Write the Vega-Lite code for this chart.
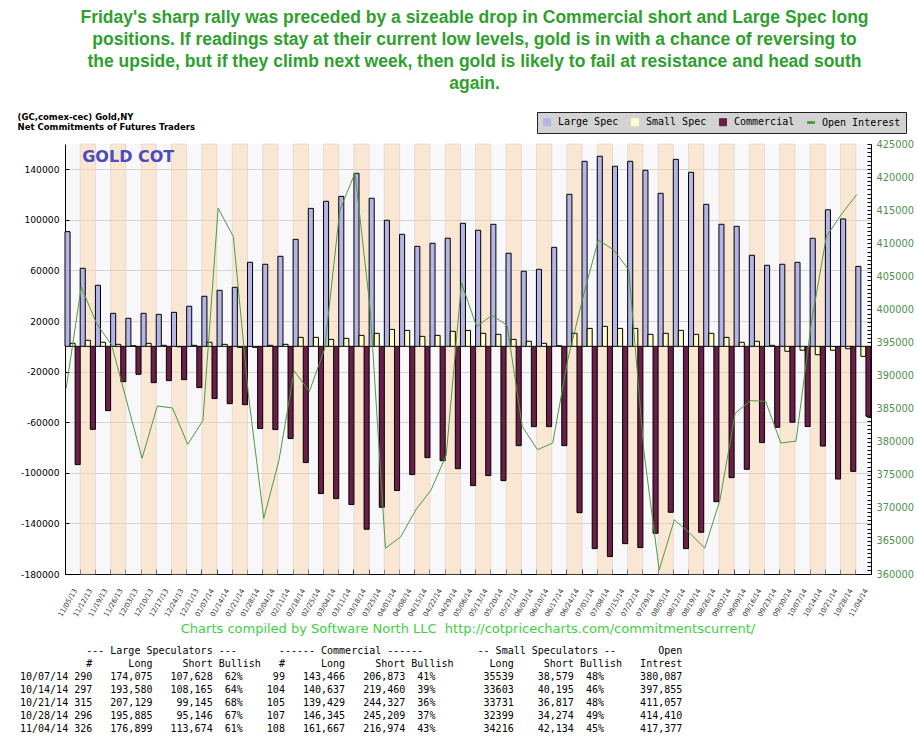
{
  "$schema": "https://vega.github.io/schema/vega-lite/v6.json",
  "background": "white",
  "padding": {"left": 17, "top": 9, "right": 0, "bottom": 0},
  "title": {
    "text": ["Friday's sharp rally was preceded by a sizeable drop in Commercial short and Large Spec long", "positions. If readings stay at their current low levels, gold is in with a chance of reversing to", "the upside, but if they climb next week, then gold is likely to fail at resistance and head south", "again."],
    "font": "Liberation Sans", "fontSize": 17.5, "fontWeight": "bold", "color": "#2ea02e", "lineHeight": 22, "anchor": "middle", "frame": "bounds", "offset": 19, "dx": 9
  },
  "datasets": {
    "cot": [
      {"date":"11/05/13","Large Spec":90700,"Small Spec":2400,"Commercial":-93500,"Open Interest":388000},
      {"date":"11/12/13","Large Spec":61700,"Small Spec":4800,"Commercial":-65600,"Open Interest":403400},
      {"date":"11/19/13","Large Spec":48300,"Small Spec":3200,"Commercial":-50800,"Open Interest":397900},
      {"date":"11/26/13","Large Spec":26100,"Small Spec":1600,"Commercial":-27900,"Open Interest":394600},
      {"date":"12/03/13","Large Spec":22200,"Small Spec":500,"Commercial":-22100,"Open Interest":386000},
      {"date":"12/10/13","Large Spec":26100,"Small Spec":2400,"Commercial":-28700,"Open Interest":377500},
      {"date":"12/17/13","Large Spec":25300,"Small Spec":800,"Commercial":-27100,"Open Interest":385400},
      {"date":"12/24/13","Large Spec":26900,"Small Spec":-300,"Commercial":-26300,"Open Interest":385100},
      {"date":"12/31/13","Large Spec":31700,"Small Spec":800,"Commercial":-32600,"Open Interest":379600},
      {"date":"01/07/14","Large Spec":39600,"Small Spec":3200,"Commercial":-41300,"Open Interest":383200},
      {"date":"01/14/14","Large Spec":44300,"Small Spec":1600,"Commercial":-45300,"Open Interest":415300},
      {"date":"01/21/14","Large Spec":46700,"Small Spec":-800,"Commercial":-46100,"Open Interest":411000},
      {"date":"01/28/14","Large Spec":66500,"Small Spec":-800,"Commercial":-65000,"Open Interest":386900},
      {"date":"02/04/14","Large Spec":64900,"Small Spec":800,"Commercial":-65800,"Open Interest":368400},
      {"date":"02/11/14","Large Spec":71200,"Small Spec":1600,"Commercial":-72900,"Open Interest":377200},
      {"date":"02/18/14","Large Spec":84600,"Small Spec":7100,"Commercial":-91900,"Open Interest":390700},
      {"date":"02/25/14","Large Spec":109100,"Small Spec":7100,"Commercial":-116400,"Open Interest":387600},
      {"date":"03/04/14","Large Spec":114700,"Small Spec":5500,"Commercial":-120400,"Open Interest":394000},
      {"date":"03/11/14","Large Spec":118600,"Small Spec":6300,"Commercial":-125100,"Open Interest":415000},
      {"date":"03/18/14","Large Spec":136800,"Small Spec":8700,"Commercial":-144600,"Open Interest":420600},
      {"date":"03/25/14","Large Spec":117100,"Small Spec":10300,"Commercial":-127200,"Open Interest":400000},
      {"date":"04/01/14","Large Spec":99700,"Small Spec":13400,"Commercial":-114000,"Open Interest":363900},
      {"date":"04/08/14","Large Spec":88600,"Small Spec":12600,"Commercial":-101400,"Open Interest":365600},
      {"date":"04/15/14","Large Spec":79100,"Small Spec":7900,"Commercial":-88000,"Open Interest":369700},
      {"date":"04/22/14","Large Spec":81500,"Small Spec":8700,"Commercial":-90400,"Open Interest":372700},
      {"date":"04/29/14","Large Spec":85500,"Small Spec":11900,"Commercial":-96700,"Open Interest":378000},
      {"date":"05/06/14","Large Spec":97300,"Small Spec":12600,"Commercial":-110100,"Open Interest":404000},
      {"date":"05/13/14","Large Spec":91800,"Small Spec":10300,"Commercial":-102200,"Open Interest":397400},
      {"date":"05/20/14","Large Spec":96500,"Small Spec":9500,"Commercial":-106200,"Open Interest":399100},
      {"date":"05/27/14","Large Spec":73600,"Small Spec":5500,"Commercial":-78500,"Open Interest":397600},
      {"date":"06/03/14","Large Spec":59400,"Small Spec":4000,"Commercial":-63500,"Open Interest":382300},
      {"date":"06/10/14","Large Spec":60900,"Small Spec":2400,"Commercial":-63500,"Open Interest":378800},
      {"date":"06/17/14","Large Spec":78300,"Small Spec":500,"Commercial":-78500,"Open Interest":379800},
      {"date":"06/24/14","Large Spec":120200,"Small Spec":10300,"Commercial":-131500,"Open Interest":392500},
      {"date":"07/01/14","Large Spec":146300,"Small Spec":14200,"Commercial":-159900,"Open Interest":401900},
      {"date":"07/08/14","Large Spec":150300,"Small Spec":15800,"Commercial":-166200,"Open Interest":410500},
      {"date":"07/15/14","Large Spec":142400,"Small Spec":14200,"Commercial":-156000,"Open Interest":409000},
      {"date":"07/22/14","Large Spec":146300,"Small Spec":14200,"Commercial":-159100,"Open Interest":406000},
      {"date":"07/29/14","Large Spec":139200,"Small Spec":9500,"Commercial":-147800,"Open Interest":378500},
      {"date":"08/05/14","Large Spec":121000,"Small Spec":10300,"Commercial":-131200,"Open Interest":360600},
      {"date":"08/12/14","Large Spec":147900,"Small Spec":12600,"Commercial":-159900,"Open Interest":368200},
      {"date":"08/19/14","Large Spec":137600,"Small Spec":9500,"Commercial":-147000,"Open Interest":366200},
      {"date":"08/26/14","Large Spec":112300,"Small Spec":10300,"Commercial":-122800,"Open Interest":363900},
      {"date":"09/02/14","Large Spec":96500,"Small Spec":7100,"Commercial":-103800,"Open Interest":371200},
      {"date":"09/09/14","Large Spec":94900,"Small Spec":3200,"Commercial":-97200,"Open Interest":384300},
      {"date":"09/16/14","Large Spec":72000,"Small Spec":4000,"Commercial":-76100,"Open Interest":386200},
      {"date":"09/23/14","Large Spec":64100,"Small Spec":800,"Commercial":-64000,"Open Interest":386100},
      {"date":"09/30/14","Large Spec":64900,"Small Spec":-3900,"Commercial":-60000,"Open Interest":379800},
      {"date":"10/07/14","Large Spec":66447,"Small Spec":-3040,"Commercial":-63407,"Open Interest":380087},
      {"date":"10/14/14","Large Spec":85415,"Small Spec":-6592,"Commercial":-78823,"Open Interest":397855},
      {"date":"10/21/14","Large Spec":107984,"Small Spec":-3086,"Commercial":-104898,"Open Interest":411057},
      {"date":"10/28/14","Large Spec":100739,"Small Spec":-1875,"Commercial":-98864,"Open Interest":414410},
      {"date":"11/04/14","Large Spec":63225,"Small Spec":-7918,"Commercial":-55307,"Open Interest":417377}
    ],
    "table": [
      {"line": 1, "text": "\u200b\u00a0\u00a0\u00a0\u00a0\u00a0\u00a0\u00a0\u00a0\u00a0\u00a0\u00a0--- Large Speculators ---\u00a0\u00a0\u00a0\u00a0\u00a0\u00a0\u00a0------ Commercial ------\u00a0\u00a0\u00a0\u00a0\u00a0\u00a0\u00a0\u00a0\u00a0-- Small Speculators --\u00a0\u00a0\u00a0\u00a0\u00a0\u00a0\u00a0Open"},
      {"line": 2, "text": "\u200b\u00a0\u00a0\u00a0\u00a0\u00a0\u00a0\u00a0\u00a0\u00a0\u00a0\u00a0#\u00a0\u00a0\u00a0\u00a0\u00a0\u00a0Long\u00a0\u00a0\u00a0\u00a0\u00a0Short Bullish\u00a0\u00a0\u00a0#\u00a0\u00a0\u00a0\u00a0\u00a0\u00a0Long\u00a0\u00a0\u00a0\u00a0\u00a0Short Bullish\u00a0\u00a0\u00a0\u00a0\u00a0\u00a0Long\u00a0\u00a0\u00a0\u00a0\u00a0Short Bullish\u00a0\u00a0\u00a0Intrest"},
      {"line": 3, "text": "10/07/14 290\u00a0\u00a0\u00a0174,075\u00a0\u00a0\u00a0107,628\u00a0\u00a062%\u00a0\u00a0\u00a0\u00a0\u00a099\u00a0\u00a0\u00a0143,466\u00a0\u00a0\u00a0206,873\u00a0\u00a041%\u00a0\u00a0\u00a0\u00a0\u00a0\u00a0\u00a0\u00a035539\u00a0\u00a0\u00a0\u00a038,579\u00a0\u00a048%\u00a0\u00a0\u00a0\u00a0\u00a0\u00a0380,087"},
      {"line": 4, "text": "10/14/14 297\u00a0\u00a0\u00a0193,580\u00a0\u00a0\u00a0108,165\u00a0\u00a064%\u00a0\u00a0\u00a0\u00a0104\u00a0\u00a0\u00a0140,637\u00a0\u00a0\u00a0219,460\u00a0\u00a039%\u00a0\u00a0\u00a0\u00a0\u00a0\u00a0\u00a0\u00a033603\u00a0\u00a0\u00a0\u00a040,195\u00a0\u00a046%\u00a0\u00a0\u00a0\u00a0\u00a0\u00a0397,855"},
      {"line": 5, "text": "10/21/14 315\u00a0\u00a0\u00a0207,129\u00a0\u00a0\u00a0\u00a099,145\u00a0\u00a068%\u00a0\u00a0\u00a0\u00a0105\u00a0\u00a0\u00a0139,429\u00a0\u00a0\u00a0244,327\u00a0\u00a036%\u00a0\u00a0\u00a0\u00a0\u00a0\u00a0\u00a0\u00a033731\u00a0\u00a0\u00a0\u00a036,817\u00a0\u00a048%\u00a0\u00a0\u00a0\u00a0\u00a0\u00a0411,057"},
      {"line": 6, "text": "10/28/14 296\u00a0\u00a0\u00a0195,885\u00a0\u00a0\u00a0\u00a095,146\u00a0\u00a067%\u00a0\u00a0\u00a0\u00a0107\u00a0\u00a0\u00a0146,345\u00a0\u00a0\u00a0245,209\u00a0\u00a037%\u00a0\u00a0\u00a0\u00a0\u00a0\u00a0\u00a0\u00a032399\u00a0\u00a0\u00a0\u00a034,274\u00a0\u00a049%\u00a0\u00a0\u00a0\u00a0\u00a0\u00a0414,410"},
      {"line": 7, "text": "11/04/14 326\u00a0\u00a0\u00a0176,899\u00a0\u00a0\u00a0113,674\u00a0\u00a061%\u00a0\u00a0\u00a0\u00a0108\u00a0\u00a0\u00a0161,667\u00a0\u00a0\u00a0216,974\u00a0\u00a043%\u00a0\u00a0\u00a0\u00a0\u00a0\u00a0\u00a0\u00a034216\u00a0\u00a0\u00a0\u00a042,134\u00a0\u00a045%\u00a0\u00a0\u00a0\u00a0\u00a0\u00a0417,377"}
    ]
  },
  "vconcat": [
    {
      "width": 806,
      "height": 430,
      "view": {"fill": "#f8f8fa", "stroke": null},
      "title": {"text": ["(GC,comex-cec) Gold,NY", "Net Commitments of Futures Traders"], "anchor": "start", "frame": "bounds", "font": "DejaVu Sans", "fontSize": 8.5, "fontWeight": "bold", "color": "#000000", "lineHeight": 10.5, "offset": 7.5, "dx": -3},
      "data": {"name": "cot"},
      "layer": [
        {
          "layer": [
            {
              "transform": [{"window": [{"op": "row_number", "as": "rn"}]}],
              "mark": {"type": "bar", "fill": "#fbd3a4", "fillOpacity": 0.45, "stroke": "#d9d0c6", "strokeWidth": 0.6},
              "encoding": {
                "x": {"field": "date", "type": "ordinal",
                  "scale": {"domain": ["11/05/13","11/12/13","11/19/13","11/26/13","12/03/13","12/10/13","12/17/13","12/24/13","12/31/13","01/07/14","01/14/14","01/21/14","01/28/14","02/04/14","02/11/14","02/18/14","02/25/14","03/04/14","03/11/14","03/18/14","03/25/14","04/01/14","04/08/14","04/15/14","04/22/14","04/29/14","05/06/14","05/13/14","05/20/14","05/27/14","06/03/14","06/10/14","06/17/14","06/24/14","07/01/14","07/08/14","07/15/14","07/22/14","07/29/14","08/05/14","08/12/14","08/19/14","08/26/14","09/02/14","09/09/14","09/16/14","09/23/14","09/30/14","10/07/14","10/14/14","10/21/14","10/28/14","11/04/14"], "paddingInner": 0, "paddingOuter": 0},
                  "axis": {"title": null, "labelAngle": -60, "labelFont": "DejaVu Sans", "labelFontSize": 6.9, "labelColor": "#333333", "labelOverlap": false, "labelPadding": 20, "labelOffset": 3, "bandPosition": 0, "tickSize": -5, "tickColor": "#000000", "domainColor": "#000000", "grid": false}},
                "y": {"datum": 160000, "type": "quantitative", "scale": {"domain": [-180000, 160000], "nice": false},
                  "axis": {"title": null, "values": [-180000,-170000,-160000,-150000,-140000,-130000,-120000,-110000,-100000,-90000,-80000,-70000,-60000,-50000,-40000,-30000,-20000,-10000,0,10000,20000,30000,40000,50000,60000,70000,80000,90000,100000,110000,120000,130000,140000,150000,160000], "labelExpr": "datum.value % 20000 === 0 ? '' + datum.value : ''", "labelFont": "DejaVu Sans", "labelFontSize": 9.2, "labelColor": "#000000", "tickSize": -4, "tickColor": "#000000", "domainColor": "#000000", "labelPadding": 10, "grid": true, "gridColor": "#d4d4d4", "gridOpacity": {"condition": {"test": "datum.value % 20000 === 0", "value": 1}, "value": 0}}},
                "y2": {"datum": -180000},
                "opacity": {"condition": {"test": "datum.rn % 2 === 0", "value": 1}, "value": 0}
              }
            },
            {
              "transform": [{"fold": ["Large Spec", "Small Spec", "Commercial"], "as": ["series", "value"]}],
              "mark": {"type": "bar", "stroke": "#000000", "strokeWidth": 1},
              "encoding": {
                "x": {"field": "date", "type": "ordinal",
                  "scale": {"domain": ["11/05/13","11/12/13","11/19/13","11/26/13","12/03/13","12/10/13","12/17/13","12/24/13","12/31/13","01/07/14","01/14/14","01/21/14","01/28/14","02/04/14","02/11/14","02/18/14","02/25/14","03/04/14","03/11/14","03/18/14","03/25/14","04/01/14","04/08/14","04/15/14","04/22/14","04/29/14","05/06/14","05/13/14","05/20/14","05/27/14","06/03/14","06/10/14","06/17/14","06/24/14","07/01/14","07/08/14","07/15/14","07/22/14","07/29/14","08/05/14","08/12/14","08/19/14","08/26/14","09/02/14","09/09/14","09/16/14","09/23/14","09/30/14","10/07/14","10/14/14","10/21/14","10/28/14","11/04/14"], "paddingInner": 0, "paddingOuter": 0}},
                "xOffset": {"field": "series", "type": "nominal", "sort": ["Large Spec", "Small Spec", "Commercial"], "scale": {"paddingInner": 0, "paddingOuter": 0}},
                "y": {"field": "value", "type": "quantitative", "scale": {"domain": [-180000, 160000], "nice": false}},
                "color": {"field": "series", "type": "nominal",
                  "scale": {"domain": ["Large Spec", "Small Spec", "Commercial", "Open Interest"], "range": ["#b4b4e6", "#ffffc8", "#6a1e48", "#4f9a40"]},
                  "legend": {"title": null, "orient": "none", "legendX": 472, "legendY": -32, "direction": "horizontal", "fillColor": "#d3d3d3", "strokeColor": "#222222", "padding": 5, "symbolType": "square", "symbolSize": 50, "symbolStrokeColor": "#000000", "symbolStrokeWidth": 1, "labelFont": "DejaVu Sans Mono", "labelFontSize": 10, "labelColor": "#000000", "columnPadding": 10, "labelOffset": 6,
                    "encode": {"symbols": {"update": {
                      "shape": {"signal": "datum.label === 'Open Interest' ? 'M-1,-0.25H1V0.25H-1Z' : 'square'"},
                      "stroke": {"signal": "datum.label === 'Open Interest' ? '#4f9a40' : '#000000'"}
                    }}}}}
              }
            },
            {
              "data": {"values": [{}]},
              "mark": {"type": "text", "text": "GOLD COT", "font": "DejaVu Sans", "fontSize": 16, "fontWeight": "bold", "color": "#4b4bbb", "align": "left", "baseline": "middle", "dx": 2},
              "encoding": {
                "x": {"datum": "11/12/13", "type": "ordinal", "bandPosition": 0,
                  "scale": {"domain": ["11/05/13","11/12/13","11/19/13","11/26/13","12/03/13","12/10/13","12/17/13","12/24/13","12/31/13","01/07/14","01/14/14","01/21/14","01/28/14","02/04/14","02/11/14","02/18/14","02/25/14","03/04/14","03/11/14","03/18/14","03/25/14","04/01/14","04/08/14","04/15/14","04/22/14","04/29/14","05/06/14","05/13/14","05/20/14","05/27/14","06/03/14","06/10/14","06/17/14","06/24/14","07/01/14","07/08/14","07/15/14","07/22/14","07/29/14","08/05/14","08/12/14","08/19/14","08/26/14","09/02/14","09/09/14","09/16/14","09/23/14","09/30/14","10/07/14","10/14/14","10/21/14","10/28/14","11/04/14"], "paddingInner": 0, "paddingOuter": 0}},
                "y": {"datum": 150000, "type": "quantitative"}
              }
            }
          ]
        },
        {
          "mark": {"type": "line", "strokeWidth": 1},
          "encoding": {
            "x": {"field": "date", "type": "ordinal", "bandPosition": 0.07,
              "scale": {"domain": ["11/05/13","11/12/13","11/19/13","11/26/13","12/03/13","12/10/13","12/17/13","12/24/13","12/31/13","01/07/14","01/14/14","01/21/14","01/28/14","02/04/14","02/11/14","02/18/14","02/25/14","03/04/14","03/11/14","03/18/14","03/25/14","04/01/14","04/08/14","04/15/14","04/22/14","04/29/14","05/06/14","05/13/14","05/20/14","05/27/14","06/03/14","06/10/14","06/17/14","06/24/14","07/01/14","07/08/14","07/15/14","07/22/14","07/29/14","08/05/14","08/12/14","08/19/14","08/26/14","09/02/14","09/09/14","09/16/14","09/23/14","09/30/14","10/07/14","10/14/14","10/21/14","10/28/14","11/04/14"], "paddingInner": 0, "paddingOuter": 0}},
            "y": {"field": "Open Interest", "type": "quantitative", "scale": {"domain": [360000, 425000], "nice": false, "zero": false},
              "axis": {"orient": "right", "title": null, "values": [360000,360625,361250,361875,362500,363125,363750,364375,365000,365625,366250,366875,367500,368125,368750,369375,370000,370625,371250,371875,372500,373125,373750,374375,375000,375625,376250,376875,377500,378125,378750,379375,380000,380625,381250,381875,382500,383125,383750,384375,385000,385625,386250,386875,387500,388125,388750,389375,390000,390625,391250,391875,392500,393125,393750,394375,395000,395625,396250,396875,397500,398125,398750,399375,400000,400625,401250,401875,402500,403125,403750,404375,405000,405625,406250,406875,407500,408125,408750,409375,410000,410625,411250,411875,412500,413125,413750,414375,415000,415625,416250,416875,417500,418125,418750,419375,420000,420625,421250,421875,422500,423125,423750,424375,425000], "labelExpr": "datum.value % 5000 === 0 ? '' + datum.value : ''", "labelFont": "DejaVu Sans", "labelFontSize": 9.8, "labelColor": "#4e8f4e", "tickSize": -4, "tickColor": "#000000", "domainColor": "#000000", "labelPadding": 9, "grid": false}},
            "color": {"datum": "Open Interest"}
          }
        }
      ],
      "resolve": {"scale": {"y": "independent"}}
    },
    {
      "width": 806,
      "height": 91,
      "title": {"text": "Charts compiled by Software North LLC\u00a0 http://cotpricecharts.com/commitmentscurrent/", "font": "DejaVu Sans", "fontSize": 13, "fontWeight": "normal", "color": "#3fcf3f", "anchor": "middle", "offset": 8},
      "data": {"name": "table"},
      "mark": {"type": "text", "font": "DejaVu Sans Mono", "fontSize": 10, "align": "left", "baseline": "middle", "color": "#000000"},
      "encoding": {
        "y": {"field": "line", "type": "ordinal", "axis": null},
        "x": {"value": -45},
        "text": {"field": "text"}
      }
    }
  ],
  "spacing": 5,
  "config": {"view": {"stroke": null}, "font": "DejaVu Sans"}
}
